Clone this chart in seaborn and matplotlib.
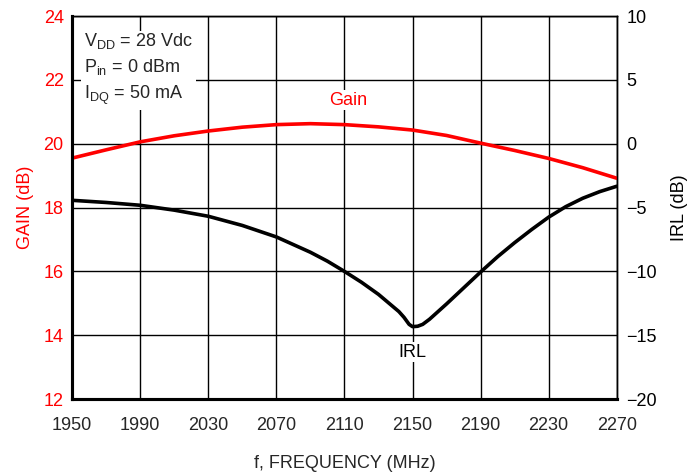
import matplotlib
matplotlib.use('Agg')
import matplotlib.pyplot as plt
import numpy as np
import pandas as pd
import seaborn as sns

# Gain curve (left axis, dB)
gain_freq = [1950, 1970, 1990, 2010, 2030, 2050, 2070, 2090, 2110, 2130,
             2150, 2170, 2190, 2210, 2230, 2250, 2270]
gain_db = [19.55, 19.81, 20.06, 20.25, 20.4, 20.52, 20.6, 20.63, 20.6, 20.53,
           20.43, 20.26, 20.02, 19.79, 19.54, 19.25, 18.92]

# Input return loss (right axis, dB)
irl_freq = [1950, 1970, 1990, 2010, 2030, 2050, 2070, 2090, 2100, 2110, 2120, 2130,
            2138, 2142, 2145, 2148, 2150, 2153, 2156, 2160, 2170, 2180, 2190,
            2200, 2210, 2220, 2230, 2240, 2250, 2260, 2270]
irl_db = [-4.43, -4.6, -4.82, -5.2, -5.68, -6.4, -7.3, -8.5, -9.2, -10.0, -10.85, -11.8,
          -12.7, -13.15, -13.6, -14.15, -14.33, -14.3, -14.15, -13.75, -12.55,
          -11.3, -10.05, -8.85, -7.75, -6.72, -5.75, -4.93, -4.27, -3.75, -3.33]

sns.set_style('white')
plt.rcParams['font.family'] = ['Liberation Sans Narrow', 'Liberation Sans', 'DejaVu Sans']

red = '#ff0000'
fs = 13
fig = plt.figure(figsize=(6.93, 4.75), dpi=100)
ax = fig.add_axes([0.104, 0.160, 0.786, 0.806])
ax2 = ax.twinx()

gain_df = pd.DataFrame({'f': gain_freq, 'gain': gain_db})
irl_df = pd.DataFrame({'f': irl_freq, 'irl': irl_db})

sns.lineplot(data=gain_df, x='f', y='gain', ax=ax, color=red, linewidth=2.6, zorder=5)
sns.lineplot(data=irl_df, x='f', y='irl', ax=ax2, color='black', linewidth=2.6, zorder=5)

ax.set_xlim(1950, 2270)
ax.set_ylim(12, 24)
ax2.set_ylim(-20, 10)
ax.set_xticks(np.arange(1950, 2271, 40))
ax.set_yticks(np.arange(12, 25, 2))
ax2.set_yticks(np.arange(-20, 11, 5))
ax2.set_yticklabels([str(v).replace('-', '\u2212') for v in range(-20, 11, 5)])

ax.grid(True, color='black', linewidth=1.0)
ax.set_axisbelow(True)
ax.tick_params(axis='x', length=0, labelsize=fs, pad=13)
ax.tick_params(axis='y', length=0, labelsize=fs, pad=6, colors=red, labelcolor=red)
ax2.tick_params(axis='y', length=0, labelsize=fs, pad=7, colors='black')

for a in (ax, ax2):
    for s in ['top', 'right']:
        a.spines[s].set_linewidth(1.0)
    for s in ['bottom', 'left']:
        a.spines[s].set_linewidth(2.2)
    for sp in a.spines.values():
        sp.set_color('black')

ax.set_xlabel('f, FREQUENCY (MHz)', fontsize=fs, labelpad=15)
ax.set_ylabel('GAIN (dB)', fontsize=fs, color=red, labelpad=7)
ax2.set_ylabel('IRL (dB)', fontsize=fs, color='black', labelpad=10)

ax.text(1957, 23.55, 'V$_{\\mathregular{DD}}$ = 28 Vdc\nP$_{\\mathregular{in}}$ = 0 dBm\nI$_{\\mathregular{DQ}}$ = 50 mA',
        fontsize=fs, va='top', ha='left', linespacing=1.45, zorder=6,
        bbox=dict(facecolor='white', edgecolor='none', pad=2))
ax.text(2112, 21.37, 'Gain', fontsize=fs, color=red, ha='center', va='center', zorder=6,
        bbox=dict(facecolor='white', edgecolor='none', pad=1))
ax.text(2150, 13.47, 'IRL', fontsize=fs, color='black', ha='center', va='center', zorder=6,
        bbox=dict(facecolor='white', edgecolor='none', pad=1))

fig.savefig('out.png', dpi=100)
